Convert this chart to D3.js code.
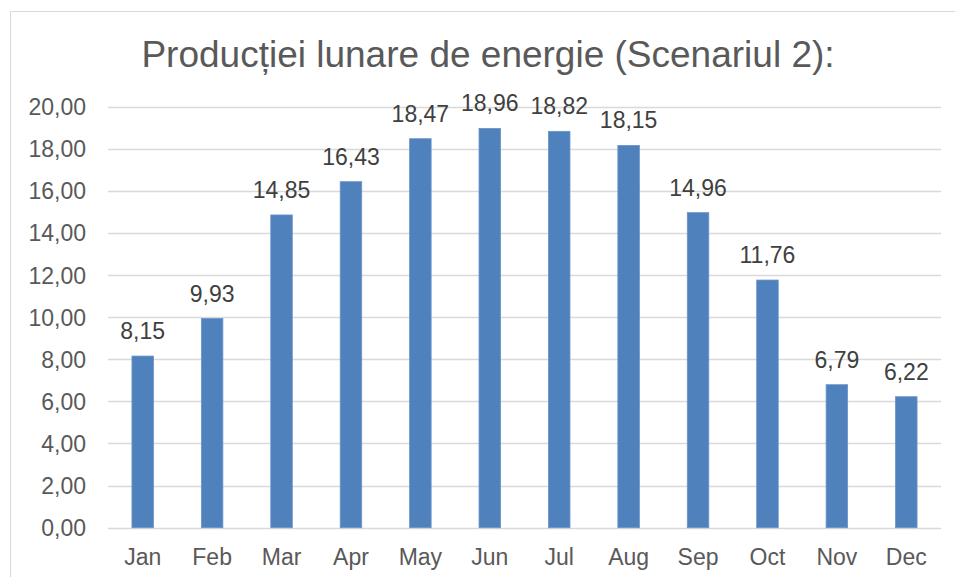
<!DOCTYPE html>
<html>
<head>
<meta charset="utf-8">
<script src="https://cdn.jsdelivr.net/npm/d3@7"></script>
<style>
  body { margin: 0; background: #fff; }
  text { font-family: "Liberation Sans", Arial, sans-serif; }
</style>
</head>
<body>
<div id="chart"></div>
<script>
// donnees
var months = ["Jan","Feb","Mar","Apr","May","Jun","Jul","Aug","Sep","Oct","Nov","Dec"];
var production = [8.15, 9.93, 14.85, 16.43, 18.47, 18.96, 18.82, 18.15, 14.96, 11.76, 6.79, 6.22];
var yTicks = [0, 2, 4, 6, 8, 10, 12, 14, 16, 18, 20];
var title = "Producției lunare de energie (Scenariul 2):";

var W = 955, H = 577;
var svg = d3.select('#chart').append('svg').attr('width', W).attr('height', H);

// cadre du graphique (deborde a droite et en bas)
svg.append('rect')
    .attr('x', 10.5).attr('y', 11.5)
    .attr('width', 1000).attr('height', 700)
    .attr('fill', '#fff')
    .attr('stroke', '#d9d9d9');

var plot = {left: 108, right: 941, top: 106.5, bottom: 527.7};

var x = d3.scaleBand()
    .domain(months)
    .range([plot.left, plot.right])
    .paddingInner(0.69)
    .paddingOuter(0.345);

var y = d3.scaleLinear()
    .domain([0, 20])
    .range([plot.bottom, plot.top]);

var fmt = function(v){ return d3.format('.2f')(v).replace('.', ','); };

// lignes de grille
svg.append('g').selectAll('line')
    .data(yTicks)
    .enter().append('line')
    .attr('x1', plot.left).attr('x2', plot.right)
    .attr('y1', function(d){ return Math.round(y(d)) + 0.5; })
    .attr('y2', function(d){ return Math.round(y(d)) + 0.5; })
    .attr('stroke', '#d9d9d9')
    .attr('stroke-width', 1.5);

// axe y
var yAxis = svg.append('g')
    .attr('transform', 'translate(' + (plot.left - 22) + ',0)')
    .call(d3.axisLeft(y).tickValues(yTicks).tickFormat(fmt).tickSize(0).tickPadding(0));
yAxis.select('.domain').remove();
yAxis.selectAll('text')
    .attr('fill', '#595959')
    .style('font-size', '23px')
    .attr('dy', '0.35em');

// axe x
var xAxis = svg.append('g')
    .attr('transform', 'translate(0,' + plot.bottom + ')')
    .call(d3.axisBottom(x).tickSize(0).tickPadding(0));
xAxis.select('.domain').remove();
xAxis.selectAll('text')
    .attr('fill', '#595959')
    .style('font-size', '23px')
    .attr('y', 37)
    .attr('dy', 0);

// barres
svg.append('g').selectAll('rect')
    .data(production)
    .enter().append('rect')
    .attr('x', function(d, i){ return x(months[i]); })
    .attr('y', function(d){ return y(d); })
    .attr('width', x.bandwidth())
    .attr('height', function(d){ return plot.bottom - y(d); })
    .attr('fill', '#4f81bd')
    .attr('stroke', '#6a93c8')
    .attr('stroke-width', 0.8);

// etiquettes des valeurs
svg.append('g').selectAll('text')
    .data(production)
    .enter().append('text')
    .attr('x', function(d, i){ return x(months[i]) + x.bandwidth() / 2; })
    .attr('y', function(d){ return y(d) - 17; })
    .attr('text-anchor', 'middle')
    .attr('fill', '#404040')
    .style('font-size', '23px')
    .text(fmt);

// titre
svg.append('text')
    .attr('x', 488)
    .attr('y', 67)
    .attr('text-anchor', 'middle')
    .attr('fill', '#595959')
    .style('font-size', '37px')
    .text(title);
</script>
</body>
</html>
